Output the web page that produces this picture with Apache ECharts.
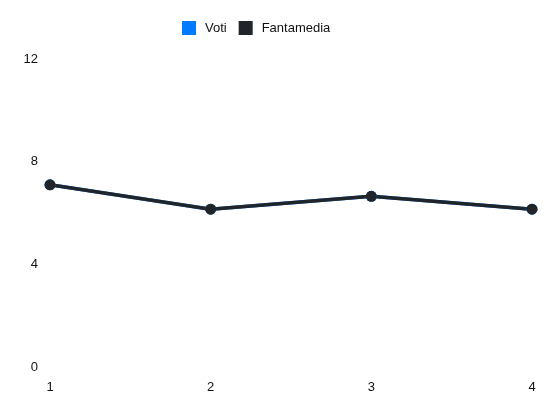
<!DOCTYPE html>
<html>
<head>
<meta charset="utf-8">
<script src="https://cdn.jsdelivr.net/npm/echarts@6/dist/echarts.min.js"></script>
<style>
  html, body { margin: 0; padding: 0; background: #fff; }
  #chart { width: 550px; height: 412px; }
</style>
</head>
<body>
<div id="chart"></div>
<script>
  // data
  const giornate = ["1", "2", "3", "4"];
  const voti = [7.1, 6.15, 6.65, 6.15];
  const fantamedia = [7.1, 6.15, 6.65, 6.15];

  const myChart = echarts.init(document.getElementById("chart"));

  const labelFont = { fontFamily: "Liberation Sans, Arial, sans-serif", fontSize: 13, color: "#111" };

  let option = {
    animation: false,
    color: ["#007bff", "#212529"],
    legend: {
      top: 21,
      left: 182,
      padding: 0,
      icon: "rect",
      itemWidth: 14,
      itemHeight: 14,
      itemGap: 12,
      textStyle: Object.assign({ padding: [0, 0, 0, 4] }, labelFont),
      data: ["Voti", "Fantamedia"]
    },
    grid: { left: 50, right: 18, top: 59, bottom: 45 },
    xAxis: {
      type: "category",
      boundaryGap: false,
      data: giornate,
      axisLine: { show: false },
      axisTick: { show: false },
      splitLine: { show: false },
      axisLabel: Object.assign({ margin: 14 }, labelFont)
    },
    yAxis: {
      type: "value",
      min: 0,
      max: 12,
      interval: 4,
      axisLine: { show: false },
      axisTick: { show: false },
      splitLine: { show: false },
      axisLabel: Object.assign({ margin: 12 }, labelFont)
    },
    series: [
      {
        name: "Voti",
        type: "line",
        data: voti,
        symbol: "circle",
        symbolSize: 11,
        lineStyle: { width: 3.5 }
      },
      {
        name: "Fantamedia",
        type: "line",
        data: fantamedia,
        symbol: "circle",
        symbolSize: 11,
        lineStyle: { width: 3.5 }
      }
    ]
  };

  myChart.setOption(option);
</script>
</body>
</html>
